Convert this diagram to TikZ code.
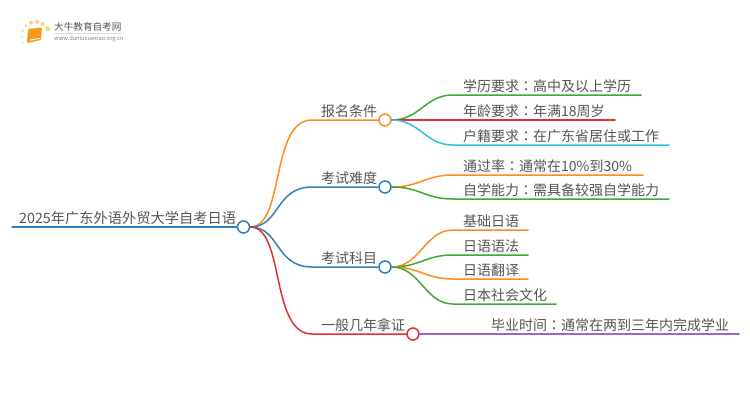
\documentclass[tikz,border=0pt]{standalone}
\usepackage{fontspec}
\setmainfont{Noto Sans CJK SC}
\newfontfamily\cjktc{Noto Sans CJK TC}
\newcommand{\midcolon}{{\cjktc ：}}
\usetikzlibrary{positioning}
\definecolor{txtgray}{HTML}{555555}
\definecolor{mporange}{HTML}{FF8C1F}
\definecolor{mpblue}{HTML}{2F7FBF}
\definecolor{mpred}{HTML}{E02F35}
\definecolor{mpgreen}{HTML}{3CAA35}
\definecolor{mpcyan}{HTML}{2CC4D8}
\definecolor{mppurple}{HTML}{9B68C8}
\definecolor{logoorange}{HTML}{F59A1B}
\definecolor{logodot}{HTML}{FBD27A}
\begin{document}
\begin{tikzpicture}[x=1pt,y=-1pt,line cap=round]
\tikzset{label/.style = {anchor=south west,inner xsep=0pt,inner ysep=2pt,text=txtgray,font=\fontsize{14}{15}\selectfont}}
\tikzset{dot/.style = {shape=circle,draw,fill=white,line width=1.5pt,inner sep=0pt,minimum size=12pt}}
\tikzset{wire/.style = {line width=1.5pt}}
\useasboundingbox (0,0) rectangle (750,410);
% logo
\fill[logoorange,rounded corners=1pt] (28,29) -- (42,27.5) -- (41,40) -- (27,43) -- cycle;
\fill[white] (30,39.5) -- (40,38) -- (40,38.8) -- (30,40.5) -- cycle;
\foreach \px/\py/\pr in {23/42.7/.8,22/36.7/1,22.7/30.7/1.3,26/25.7/1.7,31/22.7/2,37.3/22/2,42.7/24/2,47.7/28.7/2.5}
	\fill[logodot] (\px,\py) circle (\pr);
\node[anchor=west,inner sep=0pt,text=txtgray,font=\fontsize{9.6}{10}\selectfont] (brand) at (54,27) {大牛教育自考网};
\node[anchor=west,inner sep=0pt,text=gray,font=\fontsize{5.75}{6}\selectfont] (site) at (54,39) {www.daniuxuexiao.org.cn};
\draw[black!15,line width=.6pt] (brand.south west) ++(0,1.5) -- ++(67,0);
% root
\node[dot,draw=mpblue] (root) at (243.5,227) {};
\coordinate (rootend) at (12,227);
\draw[wire,mpblue] (rootend) -- (root);
\node[label,font=\fontsize{14.25}{15}\selectfont] (rootlabel) at (19,227) {2025年广东外语外贸大学自考日语};
% branches
\node[dot,draw=mporange] (tj) at (385,120) {};
\node[dot,draw=mpblue] (nd) at (385,187) {};
\node[dot,draw=mpblue] (km) at (385,267) {};
\node[dot,draw=mpred] (jn) at (413,334) {};
\coordinate (tjin) at (312,120);
\coordinate (ndin) at (312,187);
\coordinate (kmin) at (312,267);
\coordinate (jnin) at (312,334);
\node[label] (tjlabel) at (321,120) {报名条件};
\node[label] (ndlabel) at (321,187) {考试难度};
\node[label] (kmlabel) at (321,267) {考试科目};
\node[label] (jnlabel) at (321,334) {一般几年拿证};
\draw[wire,mporange] (root.east) .. controls (285,227) and (270,120) .. (tjin) -- (tj);
\draw[wire,mpblue] (root.east) .. controls (280,227) and (275,187) .. (ndin) -- (nd);
\draw[wire,mpblue] (root.east) .. controls (280,227) and (275,267) .. (kmin) -- (km);
\draw[wire,mpred] (root.east) .. controls (285,227) and (270,334) .. (jnin) -- (jn);
% leaves of the first branch
\foreach \nm/\py/\ex/\col/\txt in {
	a/95/641/mpgreen/学历要求\midcolon 高中及以上学历,
	b/120/615/mpred/年龄要求\midcolon 年满18周岁,
	c/145/669/mpcyan/户籍要求\midcolon 在广东省居住或工作}{
	\coordinate (\nm in) at (453,\py);
	\coordinate (\nm end) at (\ex,\py);
	\node[label] (\nm label) at (463,\py) {\txt};
	\draw[wire,\col] (tj.east) .. controls (420,120) and (425,\py) .. (\nm in) -- (\nm end);
}
% leaves of the second branch
\foreach \nm/\py/\ex/\col/\txt in {
	d/175/643/mporange/通过率\midcolon 通常在10\%到30\%,
	e/199/669/mpgreen/自学能力\midcolon 需具备较强自学能力}{
	\coordinate (\nm in) at (453,\py);
	\coordinate (\nm end) at (\ex,\py);
	\node[label] (\nm label) at (463,\py) {\txt};
	\draw[wire,\col] (nd.east) .. controls (420,187) and (425,\py) .. (\nm in) -- (\nm end);
}
% leaves of the third branch
\foreach \nm/\py/\ex/\col/\txt in {
	f/230/528/mporange/基础日语,
	g/255/528/mpgreen/日语语法,
	h/279/528/mporange/日语翻译,
	i/304/556/mpgreen/日本社会文化}{
	\coordinate (\nm in) at (453,\py);
	\coordinate (\nm end) at (\ex,\py);
	\node[label] (\nm label) at (463,\py) {\txt};
	\draw[wire,\col] (km.east) .. controls (420,267) and (425,\py) .. (\nm in) -- (\nm end);
}
% leaf of the last branch
\coordinate (jend) at (739,334);
\node[label] (jlabel) at (491,334) {毕业时间\midcolon 通常在两到三年内完成学业};
\draw[wire,mppurple] (jn) -- (jend);
\end{tikzpicture}
\end{document}
